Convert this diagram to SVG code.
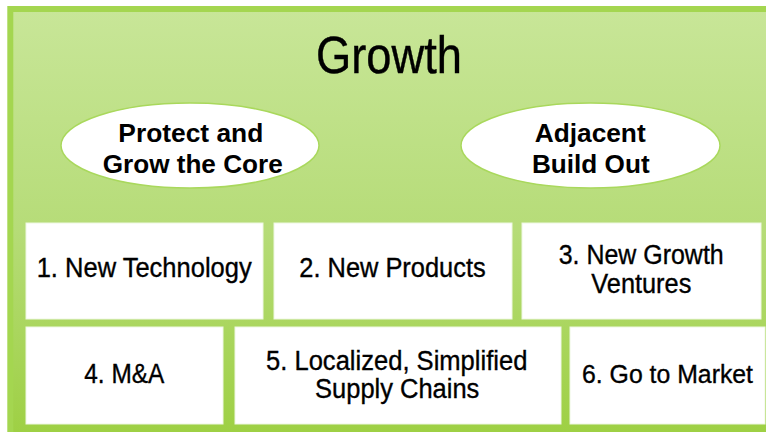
<svg xmlns="http://www.w3.org/2000/svg" width="766" height="432" viewBox="0 0 766 432">
  <defs>
    <linearGradient id="bg" x1="0" y1="0" x2="0" y2="1">
      <stop offset="0" stop-color="#c8e698"/>
      <stop offset="0.5" stop-color="#b6dc78"/>
      <stop offset="1" stop-color="#9ccf40"/>
    </linearGradient>
    <style>
      .frame { fill: url(#bg); stroke: #a4d650; stroke-width: 6; }
      .oval { fill: #ffffff; stroke: #a9d85c; stroke-width: 1.5; }
      .box { fill: #ffffff; stroke: #eef7e2; stroke-width: 1; }
      .title { font-family: "Liberation Sans Narrow", "Liberation Sans", Arial, sans-serif; font-size: 52px; fill: #000000; text-anchor: middle; stroke: #000000; stroke-width: 0.4px; }
      .otext { font-family: "Liberation Sans", Arial, sans-serif; font-size: 26px; font-weight: bold; fill: #000000; text-anchor: middle; }
      .btext { font-family: "Liberation Sans Narrow", "Liberation Sans", Arial, sans-serif; font-size: 27px; fill: #000000; text-anchor: middle; stroke: #000000; stroke-width: 0.35px; }
      .small { font-size: 25.5px; }
    </style>
  </defs>

  <rect x="0" y="0" width="766" height="432" fill="#ffffff"/>

  <g id="frame">
    <rect class="frame" x="10.3" y="9" width="770" height="440"/>
    <text class="title" x="389" y="73.3" textLength="146" lengthAdjust="spacingAndGlyphs">Growth</text>
  </g>

  <g id="connectors"></g>

  <g id="oval-core">
    <ellipse class="oval" cx="190" cy="145.5" rx="129" ry="42.5"/>
    <text class="otext" x="190.8" y="141.7" textLength="145" lengthAdjust="spacingAndGlyphs">Protect and</text>
    <text class="otext" x="192.7" y="173.3" textLength="180" lengthAdjust="spacingAndGlyphs">Grow the Core</text>
  </g>

  <g id="oval-adjacent">
    <ellipse class="oval" cx="590.5" cy="145.5" rx="129.5" ry="42.5"/>
    <text class="otext" x="590.2" y="141.7" textLength="111" lengthAdjust="spacingAndGlyphs">Adjacent</text>
    <text class="otext" x="590.8" y="173.3" textLength="117.7" lengthAdjust="spacingAndGlyphs">Build Out</text>
  </g>

  <g id="box1">
    <rect class="box" x="26" y="223" width="237" height="96"/>
    <text class="btext" x="144.2" y="277.3" textLength="215" lengthAdjust="spacingAndGlyphs">1. New Technology</text>
  </g>

  <g id="box2">
    <rect class="box" x="274" y="223" width="238" height="96"/>
    <text class="btext" x="392.5" y="277.3" textLength="186.4" lengthAdjust="spacingAndGlyphs">2. New Products</text>
  </g>

  <g id="box3">
    <rect class="box" x="522" y="223" width="239" height="96"/>
    <text class="btext" x="641.2" y="264.3" textLength="165" lengthAdjust="spacingAndGlyphs">3. New Growth</text>
    <text class="btext" x="641.3" y="292.7" textLength="100" lengthAdjust="spacingAndGlyphs">Ventures</text>
  </g>

  <g id="box4">
    <rect class="box" x="26" y="327" width="197" height="97"/>
    <text class="btext" x="124.3" y="382.7" textLength="80" lengthAdjust="spacingAndGlyphs">4. M&amp;A</text>
  </g>

  <g id="box5">
    <rect class="box" x="235" y="327" width="326" height="97"/>
    <text class="btext" x="396.7" y="370" textLength="261.3" lengthAdjust="spacingAndGlyphs">5. Localized, Simplified</text>
    <text class="btext" x="397.2" y="398.3" textLength="164.3" lengthAdjust="spacingAndGlyphs">Supply Chains</text>
  </g>

  <g id="box6">
    <rect class="box" x="570" y="327" width="195" height="97"/>
    <text class="btext small" x="667.5" y="382.7" textLength="171" lengthAdjust="spacingAndGlyphs">6. Go to Market</text>
  </g>
</svg>
